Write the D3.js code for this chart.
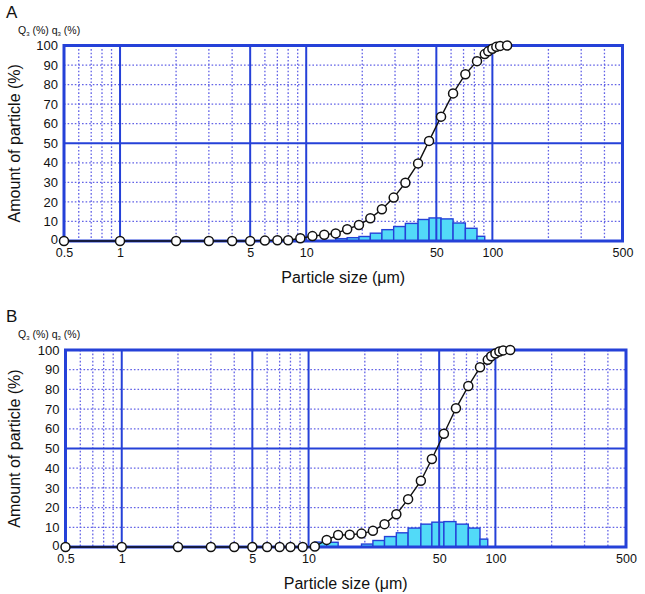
<!DOCTYPE html>
<html>
<head>
<meta charset="utf-8">
<script src="https://cdn.jsdelivr.net/npm/d3@7"></script>
<style>
  body { margin: 0; background: #fff; }
  svg text { font-family: "Liberation Sans", Arial, sans-serif; fill: #111; }
</style>
</head>
<body>
<div id="chart"></div>
<script>
// size classes (µm) shared by both measurements
var sizeClasses = [0.5, 1, 2, 3, 4, 5, 6, 7, 8, 9.3, 10.8, 12.5, 14.4, 16.6, 19.2, 22.1, 25.5, 29.5, 34.1, 39.9, 45.7, 53, 61.5, 71.6, 82.7, 91, 95, 100, 105, 110, 120];

// cumulative Q3 (%)
var cumulativeA = [0, 0, 0, 0, 0, 0, 0.2, 0.4, 0.4, 1.4, 2.5, 3.2, 3.9, 6, 8.2, 11.6, 16.2, 22.2, 29.8, 39.7, 51.2, 63.6, 75.5, 85.3, 92, 95.6, 97, 98.3, 99.3, 99.8, 100];
var cumulativeB = [0, 0, 0, 0, 0, 0, 0, 0, 0, 0, 0.2, 3.6, 6.1, 6.2, 6.8, 8.2, 11.6, 16.6, 24.3, 33.6, 44.7, 57.5, 70.4, 81.7, 91.2, 95, 96.8, 98.2, 99.2, 99.8, 100];

// frequency q3 (%) for the class from sizeClasses[i] to sizeClasses[i+1]
var densityA = [0, 0, 0, 0, 0, 0, 0, 0, 0, 0, 0, 0, 1.2, 1.7, 2.3, 4, 5.8, 7.4, 9, 11, 11.8, 11.3, 9.2, 6.5, 2.4, 0, 0, 0, 0, 0];
var densityB = [0, 0, 0, 0, 0, 0, 0, 0, 0, 0, 2.5, 2.4, 0, 0, 1.5, 3.3, 5.3, 7.2, 9.6, 11.6, 12.6, 12.9, 11.6, 9.6, 4, 0, 0, 0, 0, 0];

var xTicks = [0.5, 1, 5, 10, 50, 100, 500];
var xMajor = [1, 5, 10, 50, 100];
var xMinor = [0.6, 0.7, 0.8, 0.9, 2, 3, 4, 6, 7, 8, 9, 20, 30, 40, 60, 70, 80, 90, 200, 300, 400];
var yTicks = [0, 10, 20, 30, 40, 50, 60, 70, 80, 90, 100];

var svg = d3.select("#chart").append("svg")
  .attr("width", 645)
  .attr("height", 594);

var blue = "#2541d8";
var dotBlue = "#6262e6";

function drawPanel(label, cum, dens, box) {
  var g = svg.append("g");

  var x = d3.scaleLog().domain([0.5, 500]).range([box.left, box.right]);
  var y = d3.scaleLinear().domain([0, 100]).range([box.bottom, box.top]);

  // panel letter
  g.append("text")
    .attr("x", 6)
    .attr("y", box.top - 28)
    .style("font-size", "17px")
    .text(label);

  // header Q3 (%) q3 (%)
  var hdr = g.append("text")
    .attr("x", 18)
    .attr("y", box.top - 12)
    .style("font-size", "10.5px");
  hdr.append("tspan").text("Q");
  hdr.append("tspan").attr("dy", 2).style("font-size", "6px").text("3");
  hdr.append("tspan").attr("dy", -2).text(" (%) q");
  hdr.append("tspan").attr("dy", 2).style("font-size", "6px").text("3");
  hdr.append("tspan").attr("dy", -2).text(" (%)");

  // minor dotted grid
  g.selectAll(".hminor")
    .data(yTicks.filter(d => d != 0 && d != 50 && d != 100))
    .enter().append("line")
    .attr("x1", box.left).attr("x2", box.right)
    .attr("y1", d => y(d)).attr("y2", d => y(d))
    .attr("stroke", dotBlue)
    .attr("stroke-width", 1.3)
    .attr("stroke-dasharray", "1.6,2");

  g.selectAll(".vminor")
    .data(xMinor)
    .enter().append("line")
    .attr("x1", d => x(d)).attr("x2", d => x(d))
    .attr("y1", box.top).attr("y2", box.bottom)
    .attr("stroke", dotBlue)
    .attr("stroke-width", 1.3)
    .attr("stroke-dasharray", "1.6,2");

  // histogram bars
  var bars = [];
  dens.forEach(function(v, i) {
    if (v > 0) bars.push({ a: sizeClasses[i], b: sizeClasses[i + 1], v: v });
  });
  g.selectAll(".bar")
    .data(bars)
    .enter().append("rect")
    .attr("x", d => x(d.a))
    .attr("y", d => y(d.v))
    .attr("width", d => x(d.b) - x(d.a))
    .attr("height", d => y(0) - y(d.v))
    .attr("fill", "#52daf8")
    .attr("stroke", blue)
    .attr("stroke-width", 1.4);

  // major solid grid
  g.selectAll(".vmajor")
    .data(xMajor)
    .enter().append("line")
    .attr("x1", d => x(d)).attr("x2", d => x(d))
    .attr("y1", box.top).attr("y2", box.bottom)
    .attr("stroke", blue)
    .attr("stroke-width", 2);

  g.append("line")
    .attr("x1", box.left).attr("x2", box.right)
    .attr("y1", y(50)).attr("y2", y(50))
    .attr("stroke", blue)
    .attr("stroke-width", 2);

  // frame
  g.append("rect")
    .attr("x", box.left)
    .attr("y", box.top)
    .attr("width", box.right - box.left)
    .attr("height", box.bottom - box.top)
    .attr("fill", "none")
    .attr("stroke", blue)
    .attr("stroke-width", 3);

  // axes as text only
  var yAxis = d3.axisLeft(y).tickValues(yTicks).tickSize(0).tickPadding(6);
  var ya = g.append("g")
    .attr("transform", `translate(${box.left},0)`)
    .call(yAxis);
  ya.select(".domain").remove();
  ya.selectAll("text").style("font-size", "13px").attr("fill", "#111")
    .style("font-family", "'Liberation Sans', Arial, sans-serif");
  // the "0" sits a touch higher so it clears the 0.5 below it
  ya.selectAll(".tick").filter(d => d == 0).select("text").attr("dy", "0.2em");

  var xAxis = d3.axisBottom(x).tickValues(xTicks).tickFormat(d => d).tickSize(0).tickPadding(7);
  var xa = g.append("g")
    .attr("transform", `translate(0,${box.bottom})`)
    .call(xAxis);
  xa.select(".domain").remove();
  xa.selectAll("text").style("font-size", "12.5px").attr("fill", "#111")
    .style("font-family", "'Liberation Sans', Arial, sans-serif");

  // axis titles
  g.append("text")
    .attr("transform", `translate(20,${(box.top + box.bottom) / 2}) rotate(-90)`)
    .attr("text-anchor", "middle")
    .style("font-size", "16px")
    .text("Amount of particle (%)");

  g.append("text")
    .attr("x", (box.left + box.right) / 2)
    .attr("y", box.bottom + 42)
    .attr("text-anchor", "middle")
    .style("font-size", "16px")
    .text("Particle size (μm)");

  // cumulative curve
  var pts = sizeClasses.map((s, i) => ({ s: s, v: cum[i] }));
  var line = d3.line().x(d => x(d.s)).y(d => y(d.v));
  g.append("path")
    .datum(pts)
    .attr("d", line)
    .attr("fill", "none")
    .attr("stroke", "#111")
    .attr("stroke-width", 1.4);

  g.selectAll(".pt")
    .data(pts)
    .enter().append("circle")
    .attr("cx", d => x(d.s))
    .attr("cy", d => y(d.v))
    .attr("r", 4.5)
    .attr("fill", "#fff")
    .attr("stroke", "#111")
    .attr("stroke-width", 1.5);
}

drawPanel("A", cumulativeA, densityA, { left: 64, right: 622.5, top: 45.5, bottom: 241 });
drawPanel("B", cumulativeB, densityB, { left: 65.5, right: 626, top: 350, bottom: 547 });
</script>
</body>
</html>
